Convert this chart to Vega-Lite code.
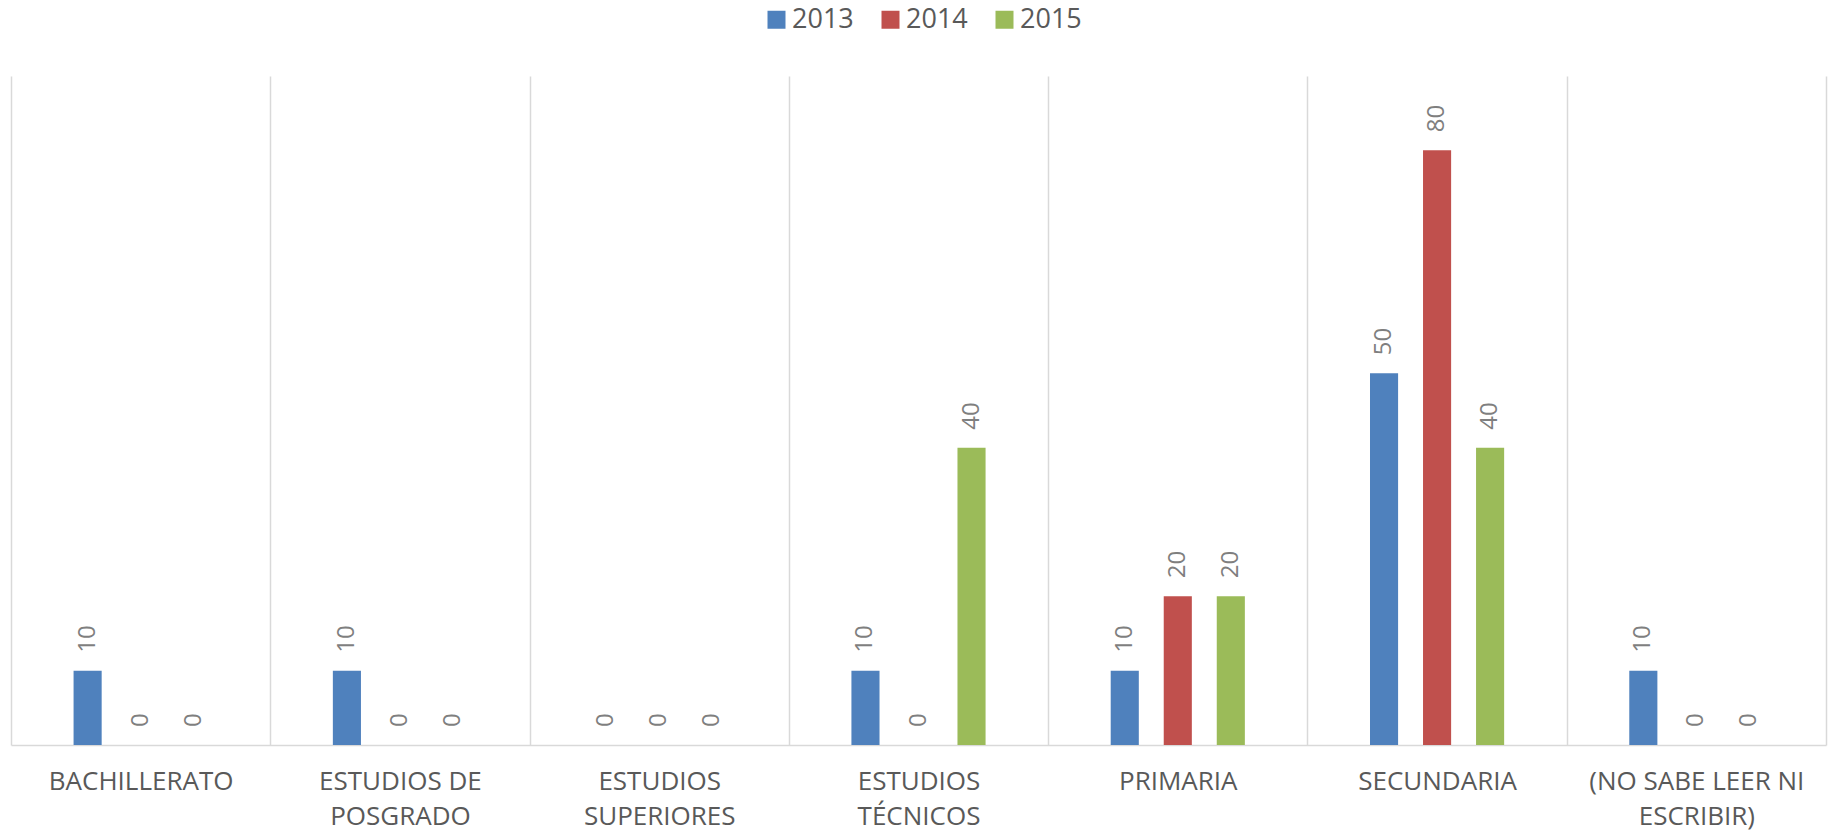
{
  "$schema": "https://vega.github.io/schema/vega-lite/v6.json",
  "autosize": "none",
  "width": 1815,
  "height": 669,
  "padding": {"left": 11, "top": 76, "right": 11, "bottom": 87},
  "background": "white",
  "config": {
    "view": {"stroke": null},
    "font": "Open Sans"
  },
  "data": {
    "values": [
      {"nivel": "BACHILLERATO", "anio": "2013", "valor": 10},
      {"nivel": "BACHILLERATO", "anio": "2014", "valor": 0},
      {"nivel": "BACHILLERATO", "anio": "2015", "valor": 0},
      {"nivel": "ESTUDIOS DE POSGRADO", "anio": "2013", "valor": 10},
      {"nivel": "ESTUDIOS DE POSGRADO", "anio": "2014", "valor": 0},
      {"nivel": "ESTUDIOS DE POSGRADO", "anio": "2015", "valor": 0},
      {"nivel": "ESTUDIOS SUPERIORES", "anio": "2013", "valor": 0},
      {"nivel": "ESTUDIOS SUPERIORES", "anio": "2014", "valor": 0},
      {"nivel": "ESTUDIOS SUPERIORES", "anio": "2015", "valor": 0},
      {"nivel": "ESTUDIOS TÉCNICOS", "anio": "2013", "valor": 10},
      {"nivel": "ESTUDIOS TÉCNICOS", "anio": "2014", "valor": 0},
      {"nivel": "ESTUDIOS TÉCNICOS", "anio": "2015", "valor": 40},
      {"nivel": "PRIMARIA", "anio": "2013", "valor": 10},
      {"nivel": "PRIMARIA", "anio": "2014", "valor": 20},
      {"nivel": "PRIMARIA", "anio": "2015", "valor": 20},
      {"nivel": "SECUNDARIA", "anio": "2013", "valor": 50},
      {"nivel": "SECUNDARIA", "anio": "2014", "valor": 80},
      {"nivel": "SECUNDARIA", "anio": "2015", "valor": 40},
      {"nivel": "(NO SABE LEER NI ESCRIBIR)", "anio": "2013", "valor": 10},
      {"nivel": "(NO SABE LEER NI ESCRIBIR)", "anio": "2014", "valor": 0},
      {"nivel": "(NO SABE LEER NI ESCRIBIR)", "anio": "2015", "valor": 0}
    ]
  },
  "encoding": {
    "x": {
      "field": "nivel",
      "type": "nominal",
      "sort": null,
      "scale": {"paddingInner": 0, "paddingOuter": 0},
      "axis": {
        "title": null,
        "tickBand": "extent",
        "ticks": false,
        "grid": true,
        "gridColor": "#d9d9d9",
        "gridWidth": 1.5,
        "domain": true,
        "domainColor": "#d9d9d9",
        "domainWidth": 1.5,
        "labelAngle": 0,
        "labelFont": "Open Sans",
        "labelFontSize": 26,
        "labelColor": "#595959",
        "labelLineHeight": 35,
        "labelPadding": 23,
        "labelLimit": 0,
        "labelOverlap": false,
        "labelExpr": "datum.value == 'ESTUDIOS DE POSGRADO' ? ['ESTUDIOS DE','POSGRADO'] : datum.value == 'ESTUDIOS SUPERIORES' ? ['ESTUDIOS','SUPERIORES'] : datum.value == 'ESTUDIOS TÉCNICOS' ? ['ESTUDIOS','TÉCNICOS'] : datum.value == '(NO SABE LEER NI ESCRIBIR)' ? ['(NO SABE LEER NI','ESCRIBIR)'] : datum.label"
      }
    },
    "xOffset": {
      "field": "anio",
      "type": "nominal",
      "scale": {"domain": ["pre", "2013", "2014", "2015", "post"], "paddingInner": 0.47, "paddingOuter": 0.18}
    },
    "y": {
      "field": "valor",
      "type": "quantitative",
      "scale": {"domain": [0, 90], "nice": false},
      "axis": null
    }
  },
  "layer": [
    {
      "mark": {"type": "bar"},
      "encoding": {
        "color": {
          "field": "anio",
          "type": "nominal",
          "scale": {"domain": ["2013", "2014", "2015"], "range": ["#4f81bd", "#c0504d", "#9bbb59"]},
          "legend": {
            "title": null,
            "orient": "none",
            "direction": "horizontal",
            "legendX": 752,
            "legendY": -70,
            "padding": 0,
            "symbolType": "square",
            "symbolSize": 324,
            "symbolStrokeWidth": 0,
            "labelFont": "Open Sans",
            "labelFontSize": 27,
            "labelColor": "#595959",
            "labelOffset": 2,
            "columnPadding": 23
          }
        }
      }
    },
    {
      "mark": {
        "type": "text",
        "angle": 270,
        "align": "left",
        "baseline": "middle",
        "dx": 18,
        "font": "Open Sans",
        "fontSize": 24,
        "color": "#7f7f7f"
      },
      "encoding": {
        "text": {"field": "valor", "type": "quantitative"}
      }
    }
  ]
}
